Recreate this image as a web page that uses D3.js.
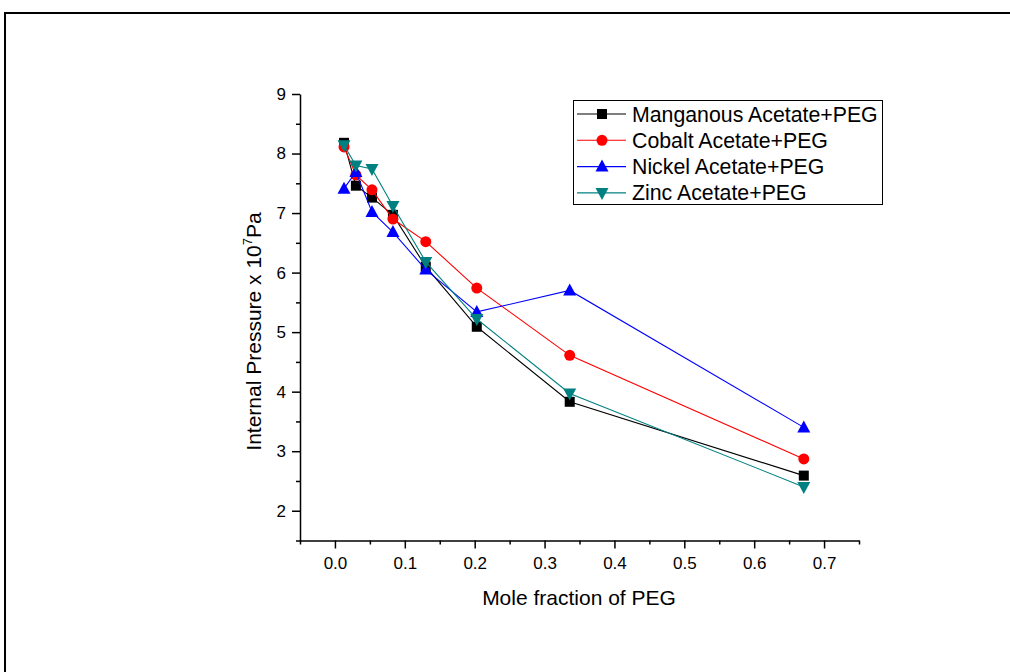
<!DOCTYPE html>
<html><head><meta charset="utf-8">
<script src="https://cdn.jsdelivr.net/npm/d3@7"></script>
<style>body{margin:0;background:#fff;} svg{display:block;font-family:"Liberation Sans",Arial,sans-serif;}</style>
</head><body>
<svg id="c" width="1010" height="672"></svg>
<script>
const xValues = [0.013, 0.030, 0.053, 0.083, 0.130, 0.203, 0.336, 0.671];
const seriesNames = ["Manganous Acetate+PEG", "Cobalt Acetate+PEG", "Nickel Acetate+PEG", "Zinc Acetate+PEG"];
const manganous = [8.18, 7.46, 7.26, 6.97, 6.10, 5.09, 3.83, 2.59];
const cobalt    = [8.11, 7.64, 7.39, 6.90, 6.52, 5.74, 4.61, 2.87];
const nickel    = [7.41, 7.69, 7.02, 6.68, 6.05, 5.34, 5.70, 3.40];
const zinc      = [8.14, 7.80, 7.74, 7.12, 6.18, 5.22, 3.97, 2.40];
const xTicks = [0.0, 0.1, 0.2, 0.3, 0.4, 0.5, 0.6, 0.7];
const yTicks = [2, 3, 4, 5, 6, 7, 8, 9];

const colors = ["#000000", "#ff0000", "#0000ff", "#008080"];
const shapes = ["square", "circle", "up", "down"];
const allSeries = [manganous, cobalt, nickel, zinc];
const FONT = '"Liberation Sans",Arial,sans-serif';

const svg = d3.select("#c");
// outer frame
svg.append("path").attr("d", "M5,672 L5,13 L1010,13").attr("fill","none").attr("stroke","#000").attr("stroke-width",2);

const L = 300, R = 859, T = 94, B = 540.5;
const x = d3.scaleLinear().domain([-0.05, 0.75]).range([L, R]);
const y = d3.scaleLinear().domain([1.5, 9]).range([B, T]);

const xMinor = d3.range(-0.05, 0.76, 0.1).map(v => +v.toFixed(2));
const yMinor = d3.range(1.5, 9, 1);

const gx = svg.append("g").attr("transform", `translate(0,${B})`);
gx.call(d3.axisBottom(x).tickValues(xTicks).tickFormat(d3.format(".1f")).tickSize(8).tickPadding(8).tickSizeOuter(0));
const gxm = svg.append("g").attr("transform", `translate(0,${B})`);
gxm.call(d3.axisBottom(x).tickValues(xMinor).tickFormat("").tickSize(4).tickSizeOuter(0));
gxm.select(".domain").remove();

const gy = svg.append("g").attr("transform", `translate(${L},0)`);
gy.call(d3.axisLeft(y).tickValues(yTicks).tickFormat(d3.format("d")).tickSize(8).tickPadding(6).tickSizeOuter(0));
const gym = svg.append("g").attr("transform", `translate(${L},0)`);
gym.call(d3.axisLeft(y).tickValues(yMinor).tickFormat("").tickSize(4).tickSizeOuter(0));
gym.select(".domain").remove();

svg.selectAll(".domain").attr("stroke", "#000").attr("stroke-width", 1.5);
svg.selectAll(".tick line").attr("stroke", "#000").attr("stroke-width", 1.5);
svg.selectAll("g").attr("font-size", null).attr("font-family", null);
svg.selectAll(".tick text").style("font-size", "17px").attr("fill", "#000").style("font-family", FONT);

// titles
svg.append("text").attr("x", 579).attr("y", 605).attr("text-anchor","middle")
  .style("font-size", "21px").text("Mole fraction of PEG");
const yt = svg.append("text").attr("transform", `translate(260.5,331.5) rotate(-90)`)
  .attr("text-anchor","middle").style("font-size", "21px");
yt.append("tspan").text("Internal Pressure x 10");
yt.append("tspan").attr("dy", -9).style("font-size", "13px").text("7");
yt.append("tspan").attr("dy", 9).text("Pa");

function marker(g, shape, color, cx, cy) {
  if (shape === "square") g.append("rect").attr("x", cx-5).attr("y", cy-5).attr("width", 10).attr("height", 10).attr("fill", color);
  else if (shape === "circle") g.append("circle").attr("cx", cx).attr("cy", cy).attr("r", 5.5).attr("fill", color);
  else if (shape === "up") g.append("path").attr("d", `M${cx},${cy-7} L${cx+6.5},${cy+5} L${cx-6.5},${cy+5} Z`).attr("fill", color);
  else g.append("path").attr("d", `M${cx},${cy+7} L${cx+6.5},${cy-5} L${cx-6.5},${cy-5} Z`).attr("fill", color);
}

const line = d3.line().x((d,i) => x(xValues[i])).y(d => y(d));
allSeries.forEach((s, k) => {
  const g = svg.append("g");
  g.append("path").attr("d", line(s)).attr("fill","none").attr("stroke", colors[k]).attr("stroke-width", 1.1);
  s.forEach((v, i) => marker(g, shapes[k], colors[k], x(xValues[i]), y(v)));
});

// legend
const lg = svg.append("g");
lg.append("rect").attr("x", 573.5).attr("y", 100.5).attr("width", 309).attr("height", 104).attr("fill","#fff").attr("stroke","#000").attr("stroke-width",1);
seriesNames.forEach((n, k) => {
  const cy = 114 + k*26.3;
  lg.append("line").attr("x1", 577).attr("x2", 626).attr("y1", cy).attr("y2", cy).attr("stroke", colors[k]).attr("stroke-width", 1.1);
  marker(lg, shapes[k], colors[k], 602, cy);
  lg.append("text").attr("x", 632).attr("y", cy + 7.5).style("font-size", "21.3px").text(n);
});
</script>
</body></html>
